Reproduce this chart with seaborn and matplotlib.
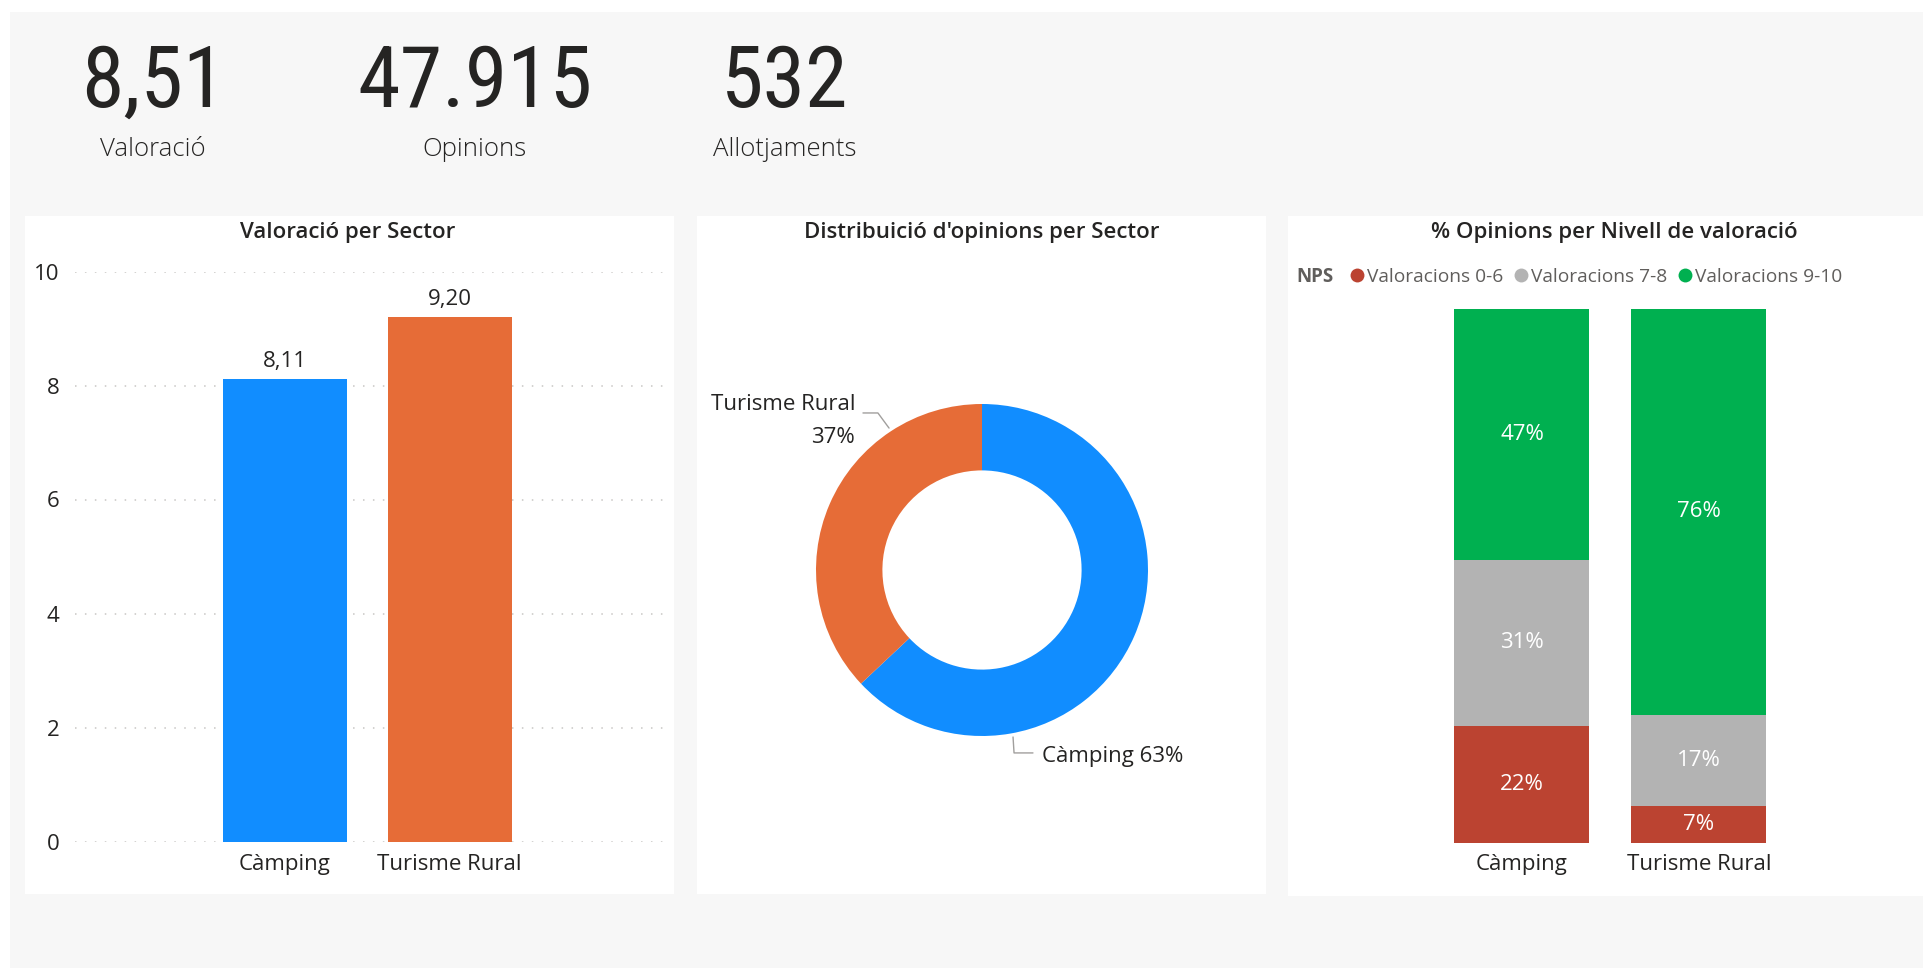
import numpy as np
import pandas as pd
import seaborn as sns
import matplotlib.pyplot as plt
from matplotlib import font_manager
from matplotlib.patches import Rectangle
from matplotlib.lines import Line2D

# KPI cards
kpi_values = ["8,51", "47.915", "532"]
kpi_labels = ["Valoració", "Opinions", "Allotjaments"]

# Valoració per Sector
sectors = ["Càmping", "Turisme Rural"]
rating = [8.11, 9.20]

# Distribució d'opinions per Sector (%)
opinion_share = [63, 37]

# % Opinions per Nivell de valoració
nps_levels = ["Valoracions 0-6", "Valoracions 7-8", "Valoracions 9-10"]
nps_camping = [22, 31, 47]
nps_rural = [7, 17, 76]

sector_colors = ["#118DFF", "#E66C37"]
nps_colors = ["#BB4331", "#B3B3B3", "#00B050"]

TEXT = "#252423"
W, H = 1923, 968

sns.set_theme(style="white")
plt.rcParams["font.family"] = ["Open Sans", "DejaVu Sans"]


def pick_condensed():
    # narrow face for the big KPI numbers, if one is installed
    fonts = font_manager.fontManager.ttflist
    names = {f.name for f in fonts}
    for name in ["Liberation Sans Narrow", "Roboto Condensed", "Open Sans Condensed"]:
        if name in names:
            return {"family": name}
    for f in fonts:
        if f.name == "DejaVu Sans" and f.stretch == "condensed":
            return {"family": "DejaVu Sans", "stretch": "condensed"}
    return {"family": "Roboto"}


def box(x0, y0, x1, y1):
    # pixel box (top-left origin) -> figure coords
    return [x0 / W, 1 - y1 / H, (x1 - x0) / W, (y1 - y0) / H]


fig = plt.figure(figsize=(W / 100, H / 100), dpi=100, facecolor="white")

# canvas + panel backgrounds
fig.patches.append(Rectangle((10 / W, 0), 1, 1 - 12 / H, transform=fig.transFigure,
                             facecolor="#F7F7F7", edgecolor="none", zorder=-10))
for x0, y0, x1, y1 in [(25, 216, 674, 894), (697, 216, 1266, 894), (1288, 216, 1923, 896)]:
    fig.patches.append(Rectangle((x0 / W, 1 - y1 / H), (x1 - x0) / W, (y1 - y0) / H,
                                 transform=fig.transFigure, facecolor="white",
                                 edgecolor="none", zorder=-9))

# KPI cards
cond = pick_condensed()
for xc, val, lab in zip([153, 475, 785], kpi_values, kpi_labels):
    fig.text(xc / W, 1 - 107 / H, val, ha="center", va="baseline", fontsize=62,
             color=TEXT, **cond)
    fig.text(xc / W, 1 - 156 / H, lab, ha="center", va="baseline", fontsize=18.5,
             color=TEXT, weight="light")

# panel titles
for xc, title in zip([348, 982, 1614], ["Valoració per Sector",
                                         "Distribuició d'opinions per Sector",
                                         "% Opinions per Nivell de valoració"]):
    fig.text(xc / W, 1 - 238 / H, title, ha="center", va="baseline", fontsize=16,
             color=TEXT, weight="semibold")

# --- bar chart: Valoració per Sector ---
ax1 = fig.add_axes(box(75, 271.5, 665, 841.5))
df1 = pd.DataFrame({"Sector": sectors, "Valoració": rating})
sns.barplot(data=df1, x="Sector", y="Valoració", hue="Sector", palette=sector_colors,
            width=0.754, saturation=1, legend=False, linewidth=0, ax=ax1)
ax1.set_xlim(-1.277, 2.31)
ax1.set_ylim(0, 10)
ax1.set_yticks(range(0, 11, 2))
ax1.set_facecolor("none")
ax1.yaxis.grid(True, color="#C8C6C4", linestyle=(0, (1, 5.5)), linewidth=1.1)
ax1.set_axisbelow(True)
for s in ax1.spines.values():
    s.set_visible(False)
ax1.tick_params(axis="both", length=0, labelsize=16, labelcolor=TEXT)
ax1.tick_params(axis="y", pad=11)
ax1.tick_params(axis="x", pad=9)
ax1.set_xlabel("")
ax1.set_ylabel("")
for cont in ax1.containers:
    ax1.bar_label(cont, labels=[f"{v:.2f}".replace(".", ",") for v in cont.datavalues],
                  padding=5, fontsize=16, color=TEXT)

# --- donut: Distribució d'opinions ---
ax2 = fig.add_axes(box(982 - 166, 570 - 166, 982 + 166, 570 + 166))
ax2.pie(opinion_share, colors=sector_colors, startangle=90, counterclock=False,
        wedgeprops=dict(width=0.4, linewidth=0))
ax2.set_xlim(-1, 1)
ax2.set_ylim(-1, 1)
ax2.set_aspect("equal")
ax2.axis("off")
lead = "#A19F9D"
ax2.plot([-0.560, -0.627, -0.717], [0.855, 0.946, 0.946], color=lead, lw=1, clip_on=False)
ax2.text(-0.765, 0.90, f"{sectors[1]}\n{opinion_share[1]}%", ha="right", va="center",
         multialignment="right", fontsize=16, color=TEXT, linespacing=1.75)
ax2.plot([0.187, 0.193, 0.307], [-1.006, -1.102, -1.102], color=lead, lw=1, clip_on=False)
ax2.text(0.361, -1.122, f"{sectors[0]} {opinion_share[0]}%", ha="left", va="center",
         fontsize=16, color=TEXT)

# --- stacked bars: % Opinions per Nivell ---
ax3 = fig.add_axes(box(1300, 309, 1920, 843))
pct = np.array([nps_camping, nps_rural]).T  # levels x sectors
tops = pct.cumsum(axis=0)
for i in reversed(range(len(nps_levels))):
    sns.barplot(x=sectors, y=tops[i], color=nps_colors[i], width=0.763, saturation=1,
                linewidth=0, ax=ax3)
for i in range(len(nps_levels)):
    for j in range(len(sectors)):
        ax3.text(j, tops[i][j] - pct[i][j] / 2, f"{pct[i][j]}%", ha="center", va="center",
                 color="white", fontsize=16)
ax3.set_xlim(-1.254, 2.249)
ax3.set_ylim(0, 100)
ax3.set_yticks([])
ax3.set_facecolor("none")
for s in ax3.spines.values():
    s.set_visible(False)
ax3.tick_params(axis="x", length=0, pad=8, labelsize=16, labelcolor=TEXT)
ax3.set_xlabel("")
ax3.set_ylabel("")

handles = [Line2D([], [], marker="o", linestyle="none", markersize=10,
                  markerfacecolor=c, markeredgecolor="none") for c in nps_colors]
fig.text(1296 / W, 1 - 277 / H, "NPS", ha="left", va="center", fontsize=13.5,
         weight="bold", color="#605E5C")
fig.legend(handles, nps_levels, loc="center left", bbox_to_anchor=(1349 / W, 1 - 277 / H),
           ncol=3, frameon=False, fontsize=13.8, labelcolor="#605E5C",
           handlelength=0.8, handletextpad=0.15, columnspacing=0.5,
           borderpad=0, borderaxespad=0)

fig.savefig("out.png", dpi=100)
